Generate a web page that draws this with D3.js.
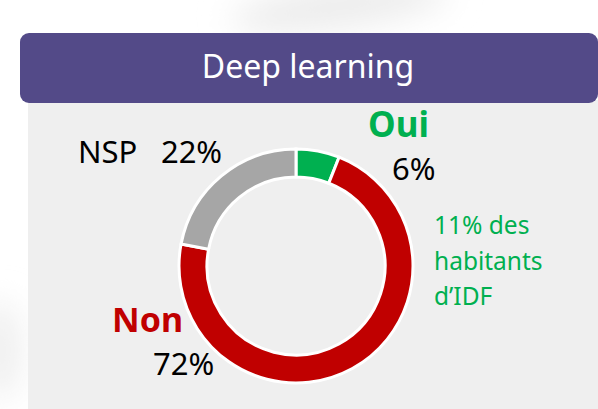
<!DOCTYPE html>
<html>
<head>
<meta charset="utf-8">
<script src="https://cdn.jsdelivr.net/npm/d3@7"></script>
<style>
  html, body { margin: 0; padding: 0; background: #fff; }
  svg { display: block; font-family: "Noto Sans", "Open Sans", sans-serif; }
</style>
</head>
<body>
<svg id="chart" width="598" height="409"></svg>
<script>
// data
const title = "Deep learning";
const categories = ["Oui", "Non", "NSP"];
const values = [6, 72, 22];
const colors = ["#00b050", "#c00000", "#a6a6a6"];
const noteLines = ["11% des", "habitants", "d\u2019IDF"];

const svg = d3.select('#chart');
const defs = svg.append('defs');

// soft shadows behind the card
const blur = defs.append('filter').attr('id', 'blur')
    .attr('x', '-50%').attr('y', '-50%').attr('width', '200%').attr('height', '200%');
blur.append('feGaussianBlur').attr('stdDeviation', 16);

svg.append('ellipse')
    .attr('cx', 340).attr('cy', 6).attr('rx', 110).attr('ry', 22)
    .attr('transform', 'rotate(-8 340 6)')
    .attr('fill', '#ececec').attr('filter', 'url(#blur)');
svg.append('ellipse')
    .attr('cx', 0).attr('cy', 350).attr('rx', 22).attr('ry', 50)
    .attr('fill', '#efefef').attr('filter', 'url(#blur)');

// grey panel + purple banner
svg.append('rect')
    .attr('x', 28).attr('y', 100).attr('width', 570).attr('height', 309)
    .attr('fill', '#efefef');
svg.append('rect')
    .attr('x', 20).attr('y', 33).attr('width', 578).attr('height', 70)
    .attr('rx', 9).attr('fill', '#534a88');
svg.append('text')
    .attr('x', 308).attr('y', 78)
    .attr('text-anchor', 'middle')
    .attr('font-size', 32)
    .attr('fill', '#fff')
    .text(title);

// donut
const cx = 296, cy = 266, rOuter = 117, rInner = 89;
const pie = d3.pie().sort(null).value(d => d)(values);
const arc = d3.arc().innerRadius(rInner).outerRadius(rOuter);

const g = svg.append('g').attr('transform', `translate(${cx},${cy})`);
g.selectAll('path')
    .data(pie)
    .enter()
    .append('path')
    .attr('d', arc)
    .attr('fill', (d, i) => colors[i])
    .attr('stroke', '#fff')
    .attr('stroke-width', 3)
    .attr('stroke-linejoin', 'miter');

// labels
const fmt = v => v + '%';

svg.append('text')
    .attr('x', 368).attr('y', 137)
    .attr('font-size', 35).attr('font-weight', 'bold')
    .attr('fill', colors[0])
    .text(categories[0]);
svg.append('text')
    .attr('x', 392).attr('y', 180)
    .attr('font-size', 31)
    .attr('fill', '#000')
    .text(fmt(values[0]));

svg.append('text')
    .attr('x', 112).attr('y', 332)
    .attr('font-size', 34).attr('font-weight', 'bold')
    .attr('fill', colors[1])
    .text(categories[1]);
svg.append('text')
    .attr('x', 153).attr('y', 375)
    .attr('font-size', 31)
    .attr('fill', '#000')
    .text(fmt(values[1]));

svg.append('text')
    .attr('x', 78).attr('y', 163)
    .attr('font-size', 31)
    .attr('fill', '#000')
    .attr('xml:space', 'preserve')
    .text(categories[2] + '\u2002 ' + fmt(values[2]));

svg.append('text')
    .attr('x', 434).attr('y', 234)
    .attr('font-size', 24.5)
    .attr('fill', colors[0])
    .selectAll('tspan')
    .data(noteLines)
    .enter()
    .append('tspan')
    .attr('x', 434)
    .attr('dy', (d, i) => i ? 35.5 : 0)
    .text(d => d);
</script>
</body>
</html>
